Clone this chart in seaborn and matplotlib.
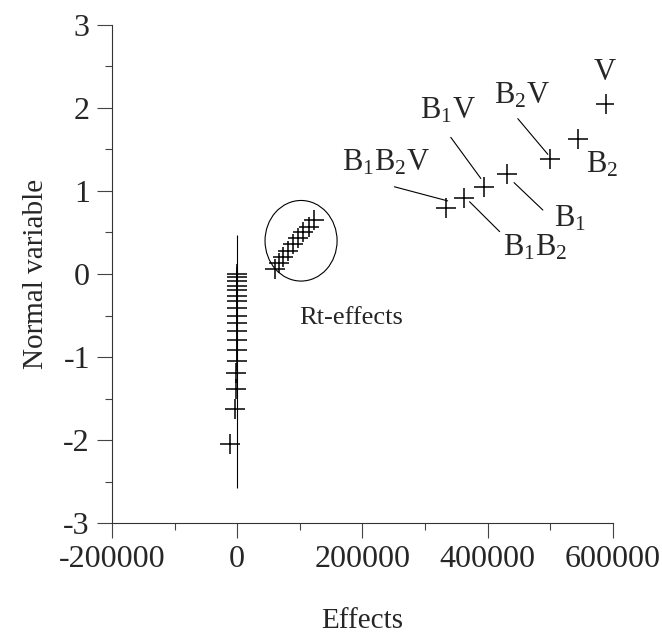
import matplotlib
matplotlib.use("Agg")
import matplotlib.pyplot as plt
import seaborn as sns
import pandas as pd
from matplotlib.patches import Ellipse
from matplotlib.ticker import MultipleLocator, FixedLocator

# ---------------- data ----------------
# effects close to zero (vertical column)
zero_effects = [0, 0, 0, 0, 0, 0, 0, 0, 0, 0, 0, 0, 0, -1000, -1500, -2000, -3000, -11000]
zero_scores = [0.00, -0.04, -0.08, -0.14, -0.19, -0.26, -0.33, -0.41, -0.50,
               -0.59, -0.69, -0.80, -0.91, -1.05, -1.19, -1.38, -1.63, -2.05]

# residual ("Rt") effects inside the ellipse
rt_effects = [60000, 66000, 73000, 81000, 89000, 97000, 105000, 114000, 123000]
rt_scores = [0.06, 0.13, 0.21, 0.28, 0.36, 0.43, 0.50, 0.57, 0.65]

# significant, labelled effects
sig_names = ["B$_1$B$_2$V", "B$_1$B$_2$", "B$_1$V", "B$_1$", "B$_2$V", "B$_2$", "V"]
sig_effects = [334000, 362000, 394000, 430000, 499000, 544000, 589000]
sig_scores = [0.80, 0.92, 1.05, 1.20, 1.38, 1.63, 2.05]

# label positions (data coordinates) and leader lines (start -> end), None = no line
label_pos = [(238000, 1.34), (475000, 0.31), (336000, 1.97), (531000, 0.67),
             (454000, 2.15), (582000, 1.31), (587000, 2.43)]
leader_lines = [((251000, 1.05), (336000, 0.88)),
                ((419000, 0.51), (371000, 0.87)),
                ((341000, 1.645), (389000, 1.15)),
                ((488000, 0.77), (442000, 1.10)),
                ((448000, 1.87), (496000, 1.44)),
                None, None]

# reference line through zero and the Rt ellipse
ref_x = 0
ref_y = (-2.58, 0.47)
ellipse_center = (102000, 0.40)
ellipse_size = (115000, 0.97)
rt_label = "Rt-effects"
rt_label_pos = (182000, -0.53)

x_ticks = [-200000, 0, 200000, 400000, 600000]
y_ticks = [-3, -2, -1, 0, 1, 2, 3]

# ---------------- drawing ----------------
sns.set_theme(style="ticks")
plt.rcParams["font.family"] = ["Liberation Serif", "DejaVu Serif"]
plt.rcParams["mathtext.default"] = "regular"

df = pd.DataFrame({
    "Effects": zero_effects + rt_effects + sig_effects,
    "Normal variable": zero_scores + rt_scores + sig_scores,
})

fig = plt.figure(figsize=(6.62, 6.35), dpi=100)
ax = fig.add_axes([0.169, 0.176, 0.757, 0.785])

ax.vlines(ref_x, ref_y[0], ref_y[1], color="black", linewidth=0.8, zorder=1)

sns.scatterplot(data=df, x="Effects", y="Normal variable", marker="+",
                s=210, color="black", linewidth=1.1, ax=ax, zorder=3)

ax.add_patch(Ellipse(ellipse_center, ellipse_size[0], ellipse_size[1],
                     fill=False, edgecolor="black", linewidth=0.8))
ax.text(rt_label_pos[0], rt_label_pos[1], rt_label, fontsize=19,
        ha="center", va="center")

for name, pos, ln in zip(sig_names, label_pos, leader_lines):
    ax.text(pos[0], pos[1], name, fontsize=22, ha="center", va="center")
    if ln is not None:
        ax.annotate("", xy=ln[1], xytext=ln[0],
                    arrowprops=dict(arrowstyle="-", color="black", lw=0.8,
                                    shrinkA=0, shrinkB=0))

ax.set_xlim(-200000, 600000)
ax.set_ylim(-3, 3)
ax.xaxis.set_major_locator(FixedLocator(x_ticks))
ax.xaxis.set_minor_locator(MultipleLocator(100000))
ax.yaxis.set_major_locator(FixedLocator(y_ticks))
ax.yaxis.set_minor_locator(MultipleLocator(0.5))
ax.set_xticklabels([str(t) for t in x_ticks])
ax.set_yticklabels([str(t) for t in y_ticks])

ax.tick_params(which="major", direction="out", length=10.8, width=0.8,
               color="#444444", labelsize=23, pad=5)
ax.tick_params(which="minor", direction="out", length=5, width=0.8,
               color="#444444")
sns.despine(ax=ax)
for s in ("left", "bottom"):
    ax.spines[s].set_linewidth(0.8)
    ax.spines[s].set_color("#333333")

ax.set_xlabel("Effects", fontsize=21, labelpad=24)
ax.set_ylabel("Normal variable", fontsize=21, labelpad=10)

fig.savefig("out.png", dpi=100)
